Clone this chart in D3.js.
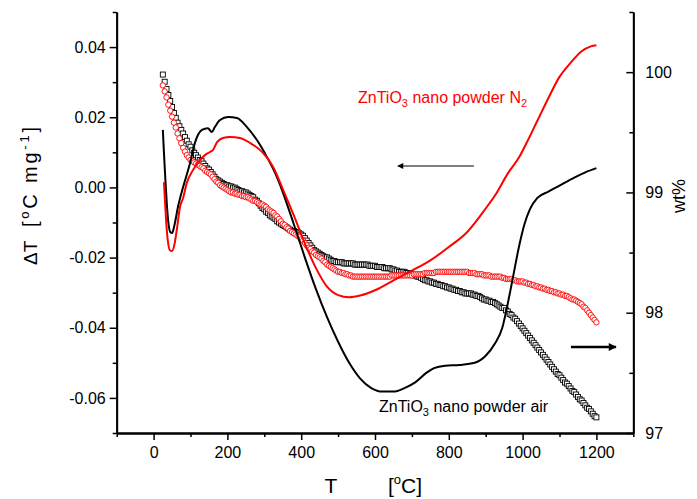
<!DOCTYPE html>
<html><head><meta charset="utf-8">
<script src="https://cdn.jsdelivr.net/npm/d3@7/dist/d3.min.js"></script>
<style>body{margin:0;background:#fff}text{font-family:"Liberation Sans",Arial,sans-serif;fill:#000}</style>
</head><body>
<script>
// ---- DTA (left axis, °C/mg) ----
const dtaAirT = [25,28,32,36,40,45,50,56,66,80, 99,112,131,147,158,166,180,202,226,253, 280,307,334,351,380,410,440,470,500,530, 560,590,620,650,680,710,740,760,790,830, 870,900,925,945,960,975,990,1005,1020,1040, 1070,1100,1140,1170,1200];
const dtaAirV = [0.0164,0.010,0.002,-0.005,-0.010,-0.0127,-0.013,-0.011,-0.0056,0.0001, 0.007,0.0127,0.0164,0.0169,0.0158,0.0172,0.0192,0.0201,0.0198,0.0172, 0.0135,0.0087,0.003,-0.0016,-0.0105,-0.020,-0.029,-0.037,-0.044,-0.050, -0.0545,-0.0572,-0.0582,-0.0582,-0.0572,-0.0555,-0.0528,-0.0515,-0.0508,-0.0506, -0.050,-0.048,-0.0445,-0.040,-0.033,-0.025,-0.017,-0.0105,-0.0062,-0.003, -0.0012,0.0005,0.0028,0.0043,0.0055];
const dtaN2T = [28,32,36,40,45,50,56,63,71.5,80, 90,107,126,139,153,161,172,188,207,234, 261,297,324,351,380,410,440,470,500,530, 560,600,650,700,750,800,850,900,930,960, 990,1010,1040,1070,1100,1130,1160,1185,1200];
const dtaN2V = [0.0015,-0.006,-0.0125,-0.0163,-0.018,-0.0181,-0.0165,-0.012,-0.0056,-0.003, 0.0013,0.005,0.0078,0.0092,0.0101,0.0107,0.0129,0.0141,0.0144,0.0141, 0.0127,0.0098,0.0058,-0.0007,-0.008,-0.016,-0.023,-0.0283,-0.0307,-0.0313, -0.0308,-0.0293,-0.0265,-0.0237,-0.0208,-0.017,-0.0127,-0.006,-0.0015,0.004, 0.0085,0.0125,0.019,0.0255,0.0315,0.0355,0.0388,0.0402,0.0405];

// ---- TG (right axis, wt%), sampled every 5 °C ----
const tgT = [25,30,35,40,45,50,55,60,65,70,75,80,85,90,95,100,
 105,110,115,120,125,130,135,140,145,150,155,160,165,170,175,180,185,190,195,200,
 205,210,215,220,225,230,235,240,245,250,255,260,265,270,275,280,285,290,295,300,
 305,310,315,320,325,330,335,340,345,350,355,360,365,370,375,380,385,390,395,400,
 405,410,415,420,425,430,435,440,445,450,455,460,465,470,475,480,485,490,495,500,
 505,510,515,520,525,530,535,540,545,550,555,560,565,570,575,580,585,590,595,600,
 605,610,615,620,625,630,635,640,645,650,655,660,665,670,675,680,685,690,695,700,
 705,710,715,720,725,730,735,740,745,750,755,760,765,770,775,780,785,790,795,800,
 805,810,815,820,825,830,835,840,845,850,855,860,865,870,875,880,885,890,895,900,
 905,910,915,920,925,930,935,940,945,950,955,960,965,970,975,980,985,990,995,1000,
 1005,1010,1015,1020,1025,1030,1035,1040,1045,1050,1055,1060,1065,1070,1075,1080,1085,1090,1095,1100,
 1105,1110,1115,1120,1125,1130,1135,1140,1145,1150,1155,1160,1165,1170,1175,1180,1185,1190,1195,1200];
const tgAir = [99.98,99.92,99.86,99.81,99.76,99.71,99.66,99.62,99.58,99.55,99.52,99.49,99.46,99.43,99.40,99.38,
 99.35,99.33,99.31,99.29,99.27,99.26,99.24,99.22,99.20,99.19,99.17,99.15,99.13,99.11,99.10,99.09,99.08,99.07,99.06,99.06,
 99.05,99.05,99.04,99.04,99.03,99.02,99.01,99.01,99.00,99.00,98.99,98.98,98.97,98.96,98.94,98.93,98.91,98.89,98.87,98.86,
 98.84,98.83,98.81,98.80,98.79,98.78,98.76,98.75,98.74,98.73,98.72,98.71,98.70,98.69,98.68,98.68,98.67,98.67,98.66,98.65,
 98.64,98.62,98.60,98.58,98.56,98.54,98.52,98.51,98.50,98.49,98.48,98.47,98.46,98.46,98.45,98.44,98.43,98.43,98.42,98.42,
 98.42,98.42,98.41,98.41,98.41,98.41,98.41,98.41,98.40,98.40,98.40,98.40,98.40,98.40,98.40,98.40,98.39,98.39,98.39,98.39,
 98.38,98.38,98.38,98.38,98.37,98.37,98.37,98.37,98.36,98.36,98.35,98.35,98.34,98.34,98.34,98.34,98.33,98.33,98.32,98.32,
 98.31,98.31,98.30,98.30,98.29,98.28,98.27,98.27,98.26,98.26,98.25,98.25,98.24,98.24,98.23,98.23,98.22,98.22,98.21,98.21,
 98.20,98.20,98.19,98.19,98.18,98.18,98.17,98.17,98.16,98.16,98.16,98.16,98.15,98.15,98.14,98.14,98.13,98.12,98.11,98.11,
 98.10,98.10,98.09,98.09,98.08,98.07,98.06,98.05,98.04,98.04,98.02,98.01,97.99,97.98,97.96,97.95,97.93,97.91,97.89,97.87,
 97.85,97.83,97.81,97.79,97.77,97.75,97.73,97.71,97.69,97.67,97.65,97.63,97.61,97.59,97.57,97.55,97.53,97.51,97.49,97.48,
 97.46,97.44,97.42,97.41,97.39,97.37,97.35,97.34,97.32,97.30,97.28,97.27,97.25,97.23,97.21,97.20,97.18,97.16,97.14,97.13];
const tgN2 = [99.89,99.84,99.79,99.73,99.68,99.63,99.58,99.54,99.49,99.45,99.41,99.37,99.34,99.31,99.29,99.27,
 99.26,99.25,99.24,99.23,99.22,99.21,99.20,99.18,99.17,99.16,99.15,99.13,99.11,99.09,99.08,99.06,99.05,99.04,99.03,99.02,
 99.01,99.00,99.00,98.99,98.99,98.98,98.98,98.97,98.97,98.96,98.96,98.95,98.94,98.93,98.93,98.92,98.91,98.90,98.90,98.89,
 98.88,98.86,98.85,98.84,98.83,98.81,98.80,98.78,98.76,98.74,98.73,98.71,98.70,98.68,98.67,98.66,98.65,98.64,98.63,98.61,
 98.60,98.58,98.56,98.54,98.53,98.51,98.50,98.48,98.47,98.46,98.45,98.43,98.42,98.40,98.39,98.38,98.37,98.36,98.35,98.34,
 98.34,98.33,98.33,98.32,98.32,98.31,98.31,98.30,98.30,98.30,98.30,98.30,98.30,98.30,98.30,98.30,98.30,98.30,98.30,98.30,
 98.30,98.30,98.30,98.30,98.30,98.30,98.30,98.30,98.31,98.31,98.31,98.31,98.31,98.31,98.31,98.31,98.31,98.31,98.31,98.31,
 98.32,98.32,98.32,98.32,98.32,98.32,98.33,98.33,98.33,98.33,98.33,98.33,98.34,98.34,98.34,98.34,98.34,98.34,98.34,98.34,
 98.34,98.34,98.34,98.34,98.34,98.34,98.34,98.34,98.34,98.34,98.33,98.33,98.33,98.33,98.32,98.32,98.32,98.32,98.31,98.31,
 98.31,98.31,98.30,98.30,98.30,98.30,98.30,98.30,98.29,98.29,98.28,98.28,98.28,98.28,98.27,98.27,98.26,98.26,98.26,98.26,
 98.25,98.25,98.24,98.24,98.23,98.23,98.22,98.22,98.21,98.21,98.20,98.20,98.19,98.19,98.18,98.18,98.17,98.17,98.16,98.16,
 98.15,98.15,98.14,98.14,98.13,98.12,98.11,98.11,98.10,98.09,98.08,98.07,98.05,98.04,98.02,98.00,97.98,97.96,97.94,97.92];

// ---- ticks ----
const xMajor = [0,200,400,600,800,1000,1200];
const xMinor = [-100,100,300,500,700,900,1100,1300];
const yLMajor = [-0.06,-0.04,-0.02,0,0.02,0.04];
const yLMinor = [-0.07,-0.05,-0.03,-0.01,0.01,0.03,0.05];
const yRMajor = [97,98,99,100];
const yRMinor = [97.5,98.5,99.5,100.5];

const W = 697, H = 499;
const L = 116.7, R = 633.3, T0 = 12, B = 433;
const svg = d3.select("body").append("svg").attr("width", W).attr("height", H);

const x = d3.scaleLinear().domain([-100, 1300]).range([L, R]);
const yL = d3.scaleLinear().domain([-0.07, 0.05]).range([B, T0]);
const yR = d3.scaleLinear().domain([97, 100.5]).range([B, T0]);

function styleAxis(g, fs) {
  g.select(".domain").attr("stroke", "#000").attr("stroke-width", 1.8);
  g.selectAll(".tick line").attr("stroke", "#000").attr("stroke-width", 1.5);
  g.selectAll(".tick text").style("font-size", fs).style("font-family", '"Liberation Sans",Arial,sans-serif').attr("fill", "#000");
  g.attr("font-family", null);
}

// axes
const gx = svg.append("g").attr("transform", `translate(0,${B})`)
  .call(d3.axisBottom(x).tickValues(xMajor).tickSize(7).tickSizeOuter(0).tickPadding(7).tickFormat(d => String(d)));
styleAxis(gx, "16px");
const gxm = svg.append("g").attr("transform", `translate(0,${B})`)
  .call(d3.axisBottom(x).tickValues(xMinor).tickSize(4).tickSizeOuter(0).tickFormat(""));
styleAxis(gxm, "16px");

const gl = svg.append("g").attr("transform", `translate(${L},0)`)
  .call(d3.axisLeft(yL).tickValues(yLMajor).tickSize(7).tickSizeOuter(0).tickPadding(4).tickFormat(d => d.toFixed(2)));
styleAxis(gl, "16px");
const glm = svg.append("g").attr("transform", `translate(${L},0)`)
  .call(d3.axisLeft(yL).tickValues(yLMinor).tickSize(4).tickSizeOuter(0).tickFormat(""));
styleAxis(glm, "16px");

const gr = svg.append("g").attr("transform", `translate(${R},0)`)
  .call(d3.axisRight(yR).tickValues(yRMajor).tickSize(-7).tickSizeOuter(0).tickPadding(12).tickFormat(d => String(d)));
styleAxis(gr, "16px");
const grm = svg.append("g").attr("transform", `translate(${R},0)`)
  .call(d3.axisRight(yR).tickValues(yRMinor).tickSize(-4).tickSizeOuter(0).tickFormat(""));
styleAxis(grm, "16px");

// TG markers
const airPts = tgT.map((t, i) => [t, tgAir[i]]);
const n2Pts = tgT.map((t, i) => [t, tgN2[i]]);
const ms = 5;
svg.append("g").selectAll("rect").data(airPts).join("rect")
  .attr("x", d => x(d[0]) - ms / 2).attr("y", d => yR(d[1]) - ms / 2)
  .attr("width", ms).attr("height", ms)
  .attr("fill", "#fff").attr("stroke", "#000").attr("stroke-width", 0.9);
svg.append("g").selectAll("circle").data(n2Pts).join("circle")
  .attr("cx", d => x(d[0])).attr("cy", d => yR(d[1])).attr("r", 2.7)
  .attr("fill", "#fff").attr("stroke", "#f00").attr("stroke-width", 0.9);

// DTA lines
const line = d3.line().x(d => x(d[0])).y(d => yL(d[1])).curve(d3.curveMonotoneX);
svg.append("path").datum(dtaAirT.map((t, i) => [t, dtaAirV[i]]))
  .attr("d", line).attr("fill", "none").attr("stroke", "#000").attr("stroke-width", 2);
svg.append("path").datum(dtaN2T.map((t, i) => [t, dtaN2V[i]]))
  .attr("d", line).attr("fill", "none").attr("stroke", "#f00").attr("stroke-width", 2);

// annotations
function label(xp, yp, color, base, sub1, mid, sub2) {
  const t = svg.append("text").attr("x", xp).attr("y", yp).style("font-size", "16px").attr("fill", color).style("fill", color);
  t.append("tspan").text(base);
  t.append("tspan").text(sub1).style("font-size", "11px").attr("dy", 4);
  t.append("tspan").text(mid).attr("dy", -4);
  if (sub2) t.append("tspan").text(sub2).style("font-size", "11px").attr("dy", 4);
}
label(358, 103, "#f00", "ZnTiO", "3", " nano powder N", "2");
label(379, 412, "#000", "ZnTiO", "3", " nano powder air", null);

// arrows
const defs = svg.append("defs");
defs.append("marker").attr("id", "ah1").attr("viewBox", "0 0 10 10").attr("refX", 9).attr("refY", 5)
  .attr("markerWidth", 10).attr("markerHeight", 6).attr("markerUnits", "userSpaceOnUse").attr("orient", "auto")
  .append("path").attr("d", "M0,0L10,5L0,10Z").attr("fill", "#000");
defs.append("marker").attr("id", "ah2").attr("viewBox", "0 0 10 10").attr("refX", 9).attr("refY", 5)
  .attr("markerWidth", 13).attr("markerHeight", 8).attr("markerUnits", "userSpaceOnUse").attr("orient", "auto")
  .append("path").attr("d", "M0,0L10,5L0,10Z").attr("fill", "#000");
svg.append("line").attr("x1", x(868)).attr("x2", x(662)).attr("y1", yL(0.0061)).attr("y2", yL(0.0061))
  .attr("stroke", "#000").attr("stroke-width", 1.2).attr("marker-end", "url(#ah1)");
svg.append("line").attr("x1", x(1131)).attr("x2", x(1253)).attr("y1", yR(97.715)).attr("y2", yR(97.715))
  .attr("stroke", "#000").attr("stroke-width", 2.6).attr("marker-end", "url(#ah2)");

// axis titles
svg.append("text").attr("transform", "translate(37,265) rotate(-90)").style("font-size", "19px").text("ΔT");
const yt = svg.append("text").attr("transform", "translate(37,227) rotate(-90)").style("font-size", "20px")
  .attr("textLength", 100).attr("lengthAdjust", "spacing");
yt.append("tspan").text("[");
yt.append("tspan").text("o").style("font-size", "13px").attr("dy", -8);
yt.append("tspan").text("C mg").attr("dy", 8);
yt.append("tspan").text("-1").style("font-size", "13px").attr("dy", -8);
yt.append("tspan").text("]").attr("dy", 8);

svg.append("text").attr("transform", "translate(685,196) rotate(-90)").attr("text-anchor", "middle").style("font-size", "18px").text("wt%");

svg.append("text").attr("x", 331).attr("y", 493).attr("text-anchor", "middle").style("font-size", "21px").text("T");
const xt = svg.append("text").attr("x", 388).attr("y", 493).style("font-size", "21px");
xt.append("tspan").text("[");
xt.append("tspan").text("o").style("font-size", "13px").attr("dy", -9);
xt.append("tspan").text("C]").attr("dy", 9);
</script>
</body></html>
